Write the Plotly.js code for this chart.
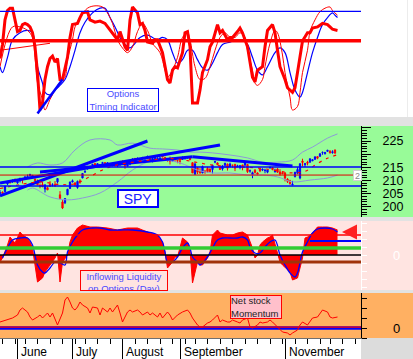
<!DOCTYPE html>
<html><head><meta charset="utf-8">
<script src="https://cdn.plot.ly/plotly-3.0.1.min.js"></script>
<style>html,body{margin:0;padding:0;background:#fff;overflow:hidden}#chart{width:413px;height:359px}</style>
</head><body><div id="chart"></div>
<script>
// ---------- DATA (x = trading-day index, 0 = 20 May 2016) ----------
const monthIdx = [7, 29, 49, 72, 114];
const monthNames = ['June', 'July', 'August', 'September', 'November'];
const weekIdx = [1, 6, 10, 15, 20, 25, 30, 34, 39, 44, 54, 59, 64, 69, 74, 78, 83, 88, 93, 98, 103, 108, 113, 118, 123, 128, 132, 137, 142];

// Options Timing Indicator (0-100 scale)
const timingLevels = [90.3, 65.2];
const timingMain = [[0,50],[1,62],[2,83],[3,91],[4,93],[5,93],[6,83],[7,73],[8,74],[9,79],[10,80],[11,79],[12,77],[13,72],[14,60],[15,38],[16,6],[17,12],[18,32],[19,43],[20,50],[21,52],[22,47],[23,50],[24,32],[25,32],[27,51],[28,68],[29,79],[31,80],[32,85],[33,89],[35,90],[36,83],[38,81],[40,82],[42,80],[44,74],[45,72],[47,66],[48,73],[50,60],[51,57],[52,83],[53,94],[55,89],[56,79],[57,80],[58,74],[59,64],[61,63],[62,66],[63,66],[65,55],[67,32],[68,29],[69,40],[70,43],[71,42],[73,55],[74,72],[75,73],[76,60],[77,12],[79,12],[80,23],[81,38],[83,49],[84,60],[85,64],[87,79],[88,72],[89,74],[91,66],[92,68],[93,68],[95,73],[96,76],[97,72],[99,60],[101,34],[102,30],[103,40],[105,43],[106,60],[107,74],[109,79],[110,72],[111,57],[112,43],[114,32],[115,25],[117,21],[118,25],[119,38],[121,65],[123,72],[124,72],[125,76],[127,77],[129,80],[131,79],[132,77],[133,75],[135,74]];
const timingFast = [[0,43],[5,77],[8,77],[11,74],[13,68],[14,51],[15,29],[17,15],[18,6],[20,15],[22,23],[24,30],[26,34],[27,49],[29,66],[30,77],[32,85],[35,93],[38,95],[41,94],[43,89],[45,80],[47,66],[49,59],[51,55],[53,60],[55,73],[57,80],[59,74],[61,63],[64,55],[66,40],[67,34],[69,40],[71,51],[73,68],[75,72],[76,66],[78,43],[80,32],[82,33],[84,43],[86,57],[88,68],[90,72],[92,68],[94,68],[96,72],[98,68],[99,57],[101,40],[102,29],[103,27],[105,32],[106,43],[108,63],[110,74],[111,72],[113,53],[114,38],[116,17],[117,6],[119,9],[120,21],[121,38],[123,57],[124,73],[126,83],[128,90],[130,93],[132,94],[133,91],[135,87]];
const timingSlow = [[0,43],[1,38],[3,51],[5,66],[8,72],[11,74],[13,72],[14,60],[15,43],[17,29],[18,21],[20,19],[22,23],[24,27],[26,32],[28,43],[30,57],[32,72],[34,81],[37,89],[40,93],[42,93],[44,85],[46,77],[48,68],[50,62],[52,59],[54,63],[56,68],[59,70],[61,68],[63,66],[65,68],[67,66],[69,55],[71,46],[73,49],[75,57],[77,57],[79,49],[81,42],[83,40],[85,46],[87,55],[89,62],[92,64],[95,66],[97,66],[99,62],[101,51],[103,40],[105,36],[107,43],[110,55],[112,59],[114,55],[116,38],[118,23],[120,17],[121,21],[123,38],[125,55],[127,68],[129,79],[131,85],[133,89],[134,87],[135,85]];
const timingTrendRed = [[0,57],[20,63]];
const timingTrendBlue = [[15,3],[25,32]];

// SPY daily candles
const spyOpen = [205.0,205.6,205.8,208.7,209.4,209.5,210.5,209.1,209.9,210.6,210.7,211.5,211.8,211.5,210.5,209.4,208.0,208.5,206.8,207.3,208.6,208.3,208.5,209.5,204.6,201.9,201.6,204.6,207.0,209.5,209.1,207.4,209.9,211.0,213.2,214.5,215.4,215.9,216.5,215.9,215.8,216.5,216.8,216.1,216.5,216.0,216.5,215.5,216.5,217.2,216.7,215.5,216.3,216.9,218.4,218.0,218.3,218.2,218.3,218.9,218.6,218.0,218.3,218.3,218.3,219.3,218.8,217.7,217.9,217.4,218.3,217.6,217.4,218.0,218.7,218.8,218.6,216.8,212.4,214.8,213.3,212.9,213.7,214.6,214.4,214.2,217.0,216.7,215.1,214.4,215.8,216.2,215.3,215.8,216.2,215.3,215.0,215.9,215.8,216.1,213.7,212.2,213.9,212.9,214.4,214.0,213.8,213.2,215.0,214.9,213.4,214.4,213.3,213.0,212.9,210.6,209.9,208.3,211.5,212.8,211.0,217.4,216.0,217.0,217.0,217.5,218.1,219.1,219.2,220.6,220.2,221.1,221.2,220.6,221.6];
const spyHigh = [206.4,205.9,208.0,209.8,209.7,210.3,210.7,210.5,210.9,210.7,211.8,212.3,212.5,212.1,210.9,210.4,208.9,209.5,208.5,207.8,209.8,209.0,209.8,210.8,206.0,202.6,203.3,206.9,209.5,210.4,209.4,210.0,210.5,212.8,214.1,215.6,215.5,216.4,216.5,216.6,216.2,217.1,217.0,216.9,216.6,216.6,216.8,216.5,217.5,217.7,216.8,216.4,216.8,218.4,218.6,218.8,218.4,219.0,218.7,219.5,218.7,218.6,219.1,218.8,218.7,219.6,219.0,218.2,219.1,218.7,218.6,217.7,217.9,219.2,219.2,219.2,218.9,216.9,216.9,215.1,214.7,215.7,213.7,215.2,214.6,215.9,217.5,216.9,215.5,215.8,216.7,216.5,216.8,216.0,216.2,216.0,215.7,216.0,217.4,216.2,214.2,213.4,214.4,213.1,214.4,214.6,214.5,214.0,215.3,215.1,214.5,214.7,214.3,213.4,213.2,210.9,210.3,209.9,213.2,215.1,216.5,218.3,216.7,217.5,218.3,218.0,219.1,219.1,220.2,221.0,220.7,221.6,221.5,221.5,221.8];
const spyLow = [204.9,204.8,205.5,208.3,208.8,209.2,209.2,208.8,209.3,208.9,210.5,211.3,211.6,211.2,209.4,208.4,207.1,207.5,205.5,206.4,207.8,207.8,207.6,208.9,202.9,199.2,201.1,204.6,206.9,209.3,207.8,206.9,208.8,210.9,213.1,214.2,214.4,215.6,215.5,215.7,215.3,216.2,215.3,215.7,215.7,215.4,215.3,215.1,215.5,216.1,214.5,215.3,215.8,216.8,217.6,217.8,217.2,218.0,217.9,218.9,217.9,216.9,218.2,217.8,217.6,218.9,217.5,217.2,216.1,217.4,217.1,216.6,216.2,217.9,217.9,218.3,217.7,212.9,212.3,212.5,212.5,212.8,212.6,213.0,213.4,212.7,216.6,215.9,214.2,213.8,214.8,213.8,215.0,214.9,213.6,215.0,214.3,213.9,215.8,212.9,213.0,210.9,212.7,212.0,213.2,213.6,212.8,212.8,214.4,213.9,213.0,212.9,211.9,212.6,209.7,209.1,208.5,208.3,211.2,212.4,210.5,215.4,215.2,215.8,216.8,217.4,217.8,218.1,219.1,219.8,219.9,220.9,220.3,220.2,220.3];
const spyClose = [205.5,205.2,207.9,209.3,209.3,210.2,209.8,210.3,210.9,210.3,211.4,211.6,212.4,212.0,210.1,208.4,208.0,207.7,208.4,206.5,207.8,208.4,208.1,210.8,203.2,199.6,203.2,206.7,209.5,209.9,208.4,209.7,209.6,212.7,213.4,214.9,215.0,216.1,215.8,216.4,215.9,216.8,215.8,216.8,216.1,216.1,215.9,216.3,217.1,216.9,215.6,216.2,216.4,218.2,218.1,218.2,217.6,218.6,218.5,219.1,217.9,218.4,218.9,218.5,218.6,219.0,217.9,217.7,217.3,218.4,218.0,217.4,217.4,218.4,219.0,219.0,218.0,212.9,216.3,213.2,213.1,215.3,213.4,213.4,213.4,215.8,217.2,216.0,214.2,215.6,216.6,214.7,216.3,215.8,214.7,215.6,215.7,215.0,216.8,213.4,213.7,213.0,213.1,212.4,213.7,214.3,213.9,214.0,215.0,214.2,213.7,213.2,212.5,212.6,211.0,209.7,208.8,208.6,213.2,214.2,216.4,216.9,216.4,216.6,218.3,217.9,219.0,218.5,220.2,220.7,220.7,221.5,220.5,220.9,220.4];
const spyBandUpper = [[11,215.2],[15,216.7],[20,215.9],[25,216.7],[30,221.6],[36,225.4],[44,225.4],[47,223.5],[53,224.2],[60,222.3],[65,222.0],[71,221.6],[76,220.8],[80,220.8],[85,220.5],[92,219.7],[99,218.6],[105,217.0],[111,217.0],[117,217.8],[121,220.8],[125,222.7],[131,226.1],[135,227.7]];
const spyBandLower = [[11,206.4],[13,207.2],[20,203.8],[27,202.7],[33,203.4],[40,205.3],[47,209.5],[53,214.0],[59,217.0],[65,217.8],[72,216.7],[79,214.0],[85,212.9],[92,212.9],[99,212.1],[105,212.1],[111,211.4],[117,209.5],[124,210.2],[131,211.0],[135,212.1]];
const spyAverage = [[0,207.0],[8,208.5],[16,209.5],[24,208.5],[30,208.8],[36,211.5],[42,214.5],[48,216.2],[55,217.2],[62,218.0],[70,218.3],[77,217.2],[84,216.0],[92,215.3],[100,215.0],[108,214.2],[114,213.2],[117,212.9],[122,213.5],[127,216.5],[131,218.5],[135,219.8]];
const spyTrendLines = [
  [[0,204.2],[59,225.0]],
  [[0,209.1],[88,223.5]],
  [[16,213.3],[77,219.0]],
  [[77,219.0],[117,215.5]]
];
const spyLevels = [{v:215.2, c:'#0000ff', w:1.5}, {v:212.1, c:'#e00000', w:1}, {v:208.0, c:'#0000ff', w:1.5}];

// Inflowing Liquidity on Options (Day)
const liquidity = [[0,-7],[1,-3],[3,10],[4,18],[6,12],[8,23],[9,20],[11,17],[12,13],[13,7],[14,-10],[15,-27],[17,-23],[18,-17],[20,-10],[22,-3],[23,2],[24,-27],[25,-7],[27,0],[28,13],[29,20],[31,27],[33,30],[36,28],[39,28],[43,27],[47,25],[51,27],[55,27],[57,25],[60,22],[63,20],[65,13],[66,3],[67,-13],[69,-7],[70,-2],[71,-2],[73,17],[74,15],[75,13],[76,5],[77,-28],[79,-7],[80,-10],[81,-10],[83,-3],[84,3],[85,20],[87,25],[88,22],[91,20],[93,20],[95,22],[97,23],[99,20],[100,13],[101,7],[102,-3],[103,0],[104,10],[105,13],[107,17],[108,18],[109,20],[110,10],[111,3],[112,-7],[113,-10],[115,-15],[116,-17],[117,-25],[119,-23],[120,-13],[121,-3],[122,17],[123,18],[125,22],[127,28],[129,28],[131,28],[133,27],[135,25]];
const liquiditySmooth = [[1,-3],[3,7],[5,15],[8,17],[11,17],[13,10],[14,0],[15,-10],[17,-17],[18,-18],[20,-13],[22,-7],[24,-8],[26,-10],[27,3],[29,13],[31,20],[33,25],[37,27],[40,27],[44,25],[48,25],[53,25],[59,23],[63,20],[65,13],[66,3],[67,-7],[69,-7],[71,-2],[73,7],[75,12],[76,7],[77,-2],[79,-7],[80,-10],[83,-2],[85,7],[87,15],[89,17],[92,17],[95,17],[97,18],[99,15],[100,8],[102,2],[104,2],[106,8],[108,13],[110,15],[112,0],[114,-10],[116,-18],[118,-22],[119,-18],[121,3],[123,13],[125,22],[127,26],[130,27],[133,26],[135,23]];
const liquidityLevels = [{v:20, c:'#ff0000', w:1.5, x0:0}, {v:14, c:'#0000ff', w:2, x0:124}, {v:7, c:'#33cc33', w:3.5, x0:0}, {v:0, c:'#000000', w:1.5, x0:0}, {v:-7, c:'#a0320a', w:3, x0:0}];

// Net stock Momentum
const momentum = [[0,6],[3,8],[5,10],[7,13],[8,18],[9,20],[11,16],[12,11],[13,8],[15,11],[16,13],[17,10],[19,15],[20,11],[21,15],[23,3],[25,15],[26,28],[27,31],[28,26],[29,20],[30,18],[31,21],[32,26],[33,23],[35,20],[36,15],[37,21],[39,20],[40,13],[41,20],[43,16],[44,20],[45,16],[47,23],[48,15],[49,6],[51,16],[52,18],[53,16],[55,18],[56,16],[57,13],[59,16],[60,13],[61,15],[63,11],[64,15],[65,10],[67,16],[68,13],[69,8],[71,13],[73,16],[75,18],[76,15],[77,10],[79,3],[80,1],[81,1],[83,5],[84,6],[85,8],[87,13],[88,6],[89,8],[91,6],[92,6],[93,8],[95,6],[96,5],[97,8],[99,10],[100,1],[101,0],[103,3],[104,6],[105,5],[107,6],[108,8],[109,6],[111,1],[112,-2],[113,-4],[115,-5],[116,-7],[117,-5],[119,-2],[120,3],[121,6],[123,3],[124,6],[125,10],[127,11],[128,15],[129,18],[131,16],[132,11],[133,10],[135,11]];

// ---------- GEOMETRY HELPERS (layout only) ----------
const PH = 338, PW = 361;
const P = py => (PH - py) / PH;      // pixel row -> paper y
const X = px => px / PW;             // pixel col -> paper x
const FONT = 'Liberation Sans, Arial, sans-serif';
const xs = a => a.map(p => p[0]);
const ys = a => a.map(p => p[1]);

const traces = [];
// Top panel
traces.push({x: xs(timingTrendRed), y: ys(timingTrendRed), yaxis: 'y', mode: 'lines', line: {color: '#ff0000', width: 1}});
traces.push({x: xs(timingSlow), y: ys(timingSlow), yaxis: 'y', mode: 'lines', line: {color: '#0000ff', width: 1.2, shape: 'spline'}});
traces.push({x: xs(timingFast), y: ys(timingFast), yaxis: 'y', mode: 'lines', line: {color: '#ff0000', width: 1, shape: 'spline'}});
traces.push({x: xs(timingMain), y: ys(timingMain), yaxis: 'y', mode: 'lines', line: {color: '#ff0000', width: 3}});
traces.push({x: xs(timingTrendBlue), y: ys(timingTrendBlue), yaxis: 'y', mode: 'lines', line: {color: '#0000ff', width: 2.5}});

// SPY panel
traces.push({x: xs(spyBandUpper), y: ys(spyBandUpper), yaxis: 'y2', mode: 'lines', line: {color: '#8c9ad8', width: 1, shape: 'spline'}});
traces.push({x: xs(spyBandLower), y: ys(spyBandLower), yaxis: 'y2', mode: 'lines', line: {color: '#8c9ad8', width: 1, shape: 'spline'}});
spyTrendLines.forEach(t => traces.push({x: xs(t), y: ys(t), yaxis: 'y2', mode: 'lines', line: {color: '#0000ff', width: 3}}));
traces.push({x: xs(spyAverage), y: ys(spyAverage), yaxis: 'y2', mode: 'lines', line: {color: '#ff0000', width: 1.2, dash: '3px,5px', shape: 'spline'}});
traces.push({type: 'candlestick', x: spyClose.map((_, i) => i), open: spyOpen, high: spyHigh, low: spyLow, close: spyClose, yaxis: 'y2',
  increasing: {line: {color: '#0000ff', width: 1}, fillcolor: '#0000ff'},
  decreasing: {line: {color: '#ff0000', width: 1}, fillcolor: '#ff0000'}, whiskerwidth: 0});

// Liquidity panel
traces.push({x: xs(liquidity), y: ys(liquidity), yaxis: 'y3', mode: 'lines', fill: 'tozeroy', fillcolor: '#ff0000', line: {color: '#ff0000', width: 1}});
traces.push({x: xs(liquiditySmooth), y: ys(liquiditySmooth), yaxis: 'y3', mode: 'lines', line: {color: '#0000ff', width: 1.3, shape: 'spline'}});

// Momentum panel
traces.push({x: [0, 144.4], y: [0, 0], yaxis: 'y4', mode: 'lines', line: {color: '#0000ff', width: 3.5}});
traces.push({x: [0, 144.4], y: [0.9, 0.9], yaxis: 'y4', mode: 'lines', line: {color: '#ff0000', width: 1.3}});
traces.push({x: xs(momentum), y: ys(momentum), yaxis: 'y4', mode: 'lines', line: {color: '#ff0000', width: 1}});

// ---------- SHAPES ----------
const shapes = [];
const rect = (y0, y1, color, x0 = 0, x1 = 413 / PW) => shapes.push({type: 'rect', xref: 'paper', yref: 'paper', x0, x1, y0, y1, fillcolor: color, line: {width: 0}, layer: 'below'});
rect(P(126), P(117), '#e2e2e2');
rect(P(217), P(126), '#98fb98');
rect(P(221), P(217), '#e2e2e2');
rect(P(290), P(221), '#ffe4e1');
rect(P(293), P(290), '#e2e2e2');
rect(P(338), P(293), '#ffb062');
rect(P(359), P(338), '#dcdcdc', 1, 413 / PW);
rect(P(117), P(0), '#ececec', X(407), X(408));

timingLevels.forEach((v, i) => shapes.push({type: 'line', xref: 'paper', yref: 'y', x0: 0, x1: 1, y0: v, y1: v, line: {color: i === 0 ? '#0000ff' : '#ff0000', width: i === 0 ? 1.2 : 3.5}}));
spyLevels.forEach(l => shapes.push({type: 'line', xref: 'paper', yref: 'y2', x0: 0, x1: 1, y0: l.v, y1: l.v, line: {color: l.c, width: l.w}}));
liquidityLevels.forEach(l => shapes.push({type: 'line', xref: l.x0 ? 'x' : 'paper', yref: 'y3', x0: l.x0, x1: l.x0 ? 144.4 : 1, y0: l.v, y1: l.v, line: {color: l.c, width: l.w}}));

// ---------- ANNOTATIONS ----------
const annotations = [];
annotations.push({xref: 'paper', yref: 'paper', x: X(87), y: P(88), xanchor: 'left', yanchor: 'top', showarrow: false,
  text: 'Options<br>Timing Indicator', align: 'center', width: 70, height: 22, bgcolor: '#ffffff', bordercolor: '#0000ff', borderwidth: 1, borderpad: 0,
  font: {family: FONT, size: 9.5, color: '#4b4bff'}});
annotations.push({xref: 'paper', yref: 'paper', x: X(117), y: P(189), xanchor: 'left', yanchor: 'top', showarrow: false,
  text: 'SPY', width: 36, height: 13, bgcolor: '#ffffff', bordercolor: '#0000ff', borderwidth: 2, borderpad: 1,
  font: {family: FONT, size: 14, color: '#2020ff'}});
annotations.push({xref: 'paper', yref: 'paper', x: X(353), y: P(170), xanchor: 'left', yanchor: 'top', showarrow: false,
  text: '2', width: 7, height: 9, bgcolor: '#ffffff', bordercolor: '#d0d0d0', borderwidth: 1, borderpad: 0,
  font: {family: FONT, size: 9, color: '#888888'}});
annotations.push({xref: 'paper', yref: 'paper', x: X(80), y: P(270), xanchor: 'left', yanchor: 'top', showarrow: false, valign: 'top',
  text: 'Inflowing Liquidity<br>on Options (Day)', align: 'center', width: 86, height: 19, bordercolor: '#ff0000', borderwidth: 1, borderpad: 0,
  font: {family: FONT, size: 9.5, color: '#4b4bff'}});
annotations.push({xref: 'paper', yref: 'paper', x: X(230), y: P(295), xanchor: 'left', yanchor: 'top', showarrow: false,
  text: 'Net stock<br>Momentum', align: 'left', width: 50, height: 22, bgcolor: '#ffc0cb', bordercolor: '#ff0000', borderwidth: 1, borderpad: 0,
  font: {family: FONT, size: 9.5, color: '#222222'}});
annotations.push({xref: 'paper', yref: 'paper', x: X(342), y: P(232), ax: 12, ay: 0, showarrow: true, text: '',
  arrowhead: 2, arrowsize: 1, arrowwidth: 3, arrowcolor: '#ff2020'});
monthIdx.forEach((d, i) => annotations.push({xref: 'x', yref: 'paper', x: d + 0.6, y: P(352), xanchor: 'left', yanchor: 'middle', showarrow: false,
  text: monthNames[i], font: {family: FONT, size: 12, color: '#000000'}}));

const rightAxis = {anchor: 'x', side: 'right', showgrid: false, zeroline: false, fixedrange: true};
const layout = {
  width: 413, height: 359,
  margin: {l: 0, r: 52, t: 0, b: 21, pad: 0},
  paper_bgcolor: '#ffffff', plot_bgcolor: 'rgba(0,0,0,0)',
  showlegend: false, font: {family: FONT, size: 12, color: '#000'},
  xaxis: {domain: [0, 1], range: [0, 144.4], anchor: 'y4', showgrid: false, zeroline: false, showline: true, linecolor: '#707070', linewidth: 1,
    tickmode: 'array', tickvals: monthIdx, ticks: 'outside', ticklen: 21, tickcolor: '#000', tickwidth: 1, showticklabels: false,
    minor: {tickmode: 'array', tickvals: weekIdx, ticks: 'outside', ticklen: 5, tickcolor: '#000', tickwidth: 1},
    rangeslider: {visible: false}, fixedrange: true},
  yaxis: Object.assign({}, rightAxis, {domain: [P(117), P(0)], range: [0, 100], visible: false}),
  yaxis2: Object.assign({}, rightAxis, {domain: [P(217), P(126)], range: [196.2, 230.7], showline: true, linecolor: '#000', linewidth: 1,
    tickmode: 'array', tickvals: [200, 205, 210, 215, 220, 225, 230], ticktext: ['200', '205', '210', '215', '', '225', ''],
    ticks: 'outside', ticklen: 9, tickcolor: '#000', ticklabelstandoff: 9, tickfont: {family: FONT, size: 12.5, color: '#000'},
    minor: {dtick: 1, ticks: 'outside', ticklen: 5, tickcolor: '#000'}}),
  yaxis3: Object.assign({}, rightAxis, {domain: [P(290), P(221)], range: [-35, 34], showline: true, linecolor: '#ffffff', linewidth: 1,
    tickmode: 'array', tickvals: [-32, -24, -16, -8, 0, 8, 16, 24, 32], ticktext: ['', '', '', '', '\u2007\u20070', '', '', '', ''],
    ticks: 'outside', ticklen: 5, tickcolor: '#ffffff', ticklabelstandoff: 9, tickfont: {family: FONT, size: 13, color: '#ffffff'}}),
  yaxis4: Object.assign({}, rightAxis, {domain: [0, P(293)], range: [-10, 35], showline: true, linecolor: '#000', linewidth: 1,
    tickmode: 'array', tickvals: [-10, 0, 10, 20, 30], ticktext: ['', '\u2007\u20070', '', '', ''],
    ticks: 'outside', ticklen: 5, tickcolor: '#000', ticklabelstandoff: 9, tickfont: {family: FONT, size: 13, color: '#000'}}),
  shapes, annotations
};
Plotly.newPlot('chart', traces, layout, {staticPlot: true, displayModeBar: false});
</script></body></html>
